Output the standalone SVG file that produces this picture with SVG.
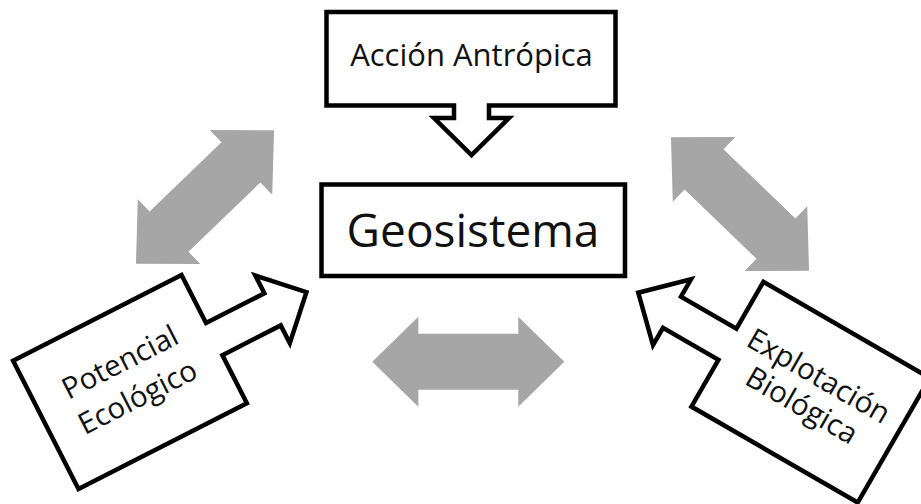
<svg xmlns="http://www.w3.org/2000/svg" width="921" height="504" viewBox="0 0 921 504">
  <style>
    .box { fill: #ffffff; stroke: #000000; stroke-width: 4.5; stroke-linejoin: miter; }
    .gray { fill: #a6a6a6; stroke: none; }
    .lbl { font-family: "Open Sans", "Liberation Sans", sans-serif; fill: #111111; text-anchor: middle; }
  </style>
  <defs>
    <polygon id="dbl" points="-96,0 -50,-45 -50,-28 50,-28 50,-45 96,0 50,45 50,28 -50,28 -50,45"/>
  </defs>
  <g id="connectors">
    <use href="#dbl" class="gray" transform="translate(205,197) rotate(-44)"/>
    <use href="#dbl" class="gray" transform="translate(740,204) rotate(44)"/>
    <use href="#dbl" class="gray" transform="translate(468.3,361.7)"/>
  </g>
  <g id="accion-antropica">
    <path class="box" d="M326.5,12 H615.5 V105.5 H489 V118 H509 L471.5,155 L434,118 H454 V105.5 H326.5 Z"/>
    <text class="lbl" x="471.5" y="66" font-size="31">Acción Antrópica</text>
  </g>
  <g id="geosistema">
    <rect class="box" x="321.5" y="184.5" width="303.5" height="91.5" stroke-width="5"/>
    <text class="lbl" x="473" y="247" font-size="46">Geosistema</text>
  </g>
  <g id="potencial-ecologico" transform="translate(130,382) rotate(-27)">
    <path class="box" d="M-94.5,-72 H94.5 V-18 H160 V-38 L198,0 L160,38 V18 H94.5 V72 H-94.5 Z"/>
    <text class="lbl" x="0" y="-12" font-size="29.5">Potencial</text>
    <text class="lbl" x="0" y="27" font-size="29.5">Ecológico</text>
  </g>
  <g id="explotacion-biologica" transform="translate(809.7,391.7) rotate(30)">
    <path class="box" d="M97,-72 H-95 V-18 H-159 V-38 L-198,0 L-159,38 V18 H-95 V72 H97 Z"/>
    <text class="lbl" x="0" y="-8" font-size="29.5">Explotación</text>
    <text class="lbl" x="0" y="26" font-size="29.5">Biológica</text>
  </g>
</svg>
